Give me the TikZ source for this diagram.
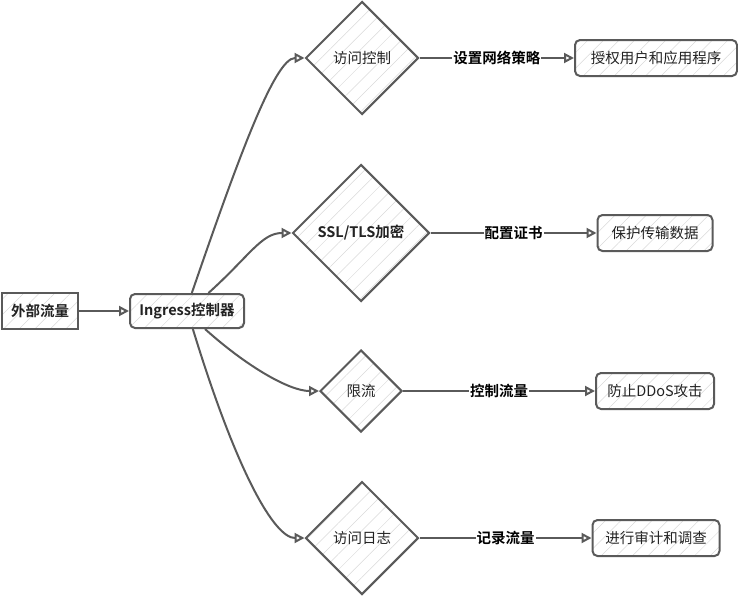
\documentclass[tikz,border=0pt]{standalone}
\usepackage{fontspec}
\setmainfont{Noto Sans CJK SC}[BoldFont={Noto Sans CJK SC Bold}]
\usepackage{xcolor}
\usetikzlibrary{arrows.meta,positioning,shapes.geometric,patterns.meta}
\definecolor{linegray}{HTML}{5A5A5A}
\definecolor{textgray}{HTML}{222222}

\begin{document}
\begin{tikzpicture}[x=1pt,y=1pt,
      box_node/.style={
         rectangle,
         draw=linegray,
         line width=2pt,
         rounded corners=5pt,
         pattern={Lines[angle=45,distance=11pt,line width=0.5pt]},
         pattern color=gray!30,
         text=textgray,
         inner sep=0pt,
         minimum height=36pt,
         font=\fontsize{14.5}{17}\selectfont},
      plain_box/.style={
         box_node,
         rounded corners=0pt},
      diamond_node/.style={
         diamond,
         aspect=1,
         draw=linegray,
         line width=2pt,
         pattern={Lines[angle=45,distance=11pt,line width=0.5pt]},
         pattern color=gray!30,
         text=textgray,
         inner sep=0pt,
         font=\fontsize{14.5}{17}\selectfont},
      edge_label/.style={
         fill=white,
         inner sep=1pt,
         text=black,
         font=\fontsize{14.5}{17}\selectfont\bfseries},
      arrow_gray/.style={
         -{Triangle[open,length=10pt,width=10pt]},
         draw=linegray,
         line width=2pt}
]
      \useasboundingbox (0,0) rectangle (738,-597);

      %entry
      \node[plain_box,minimum width=76pt,font=\fontsize{14.5}{17}\selectfont\bfseries] (src) at (40,-311) {外部流量};
      \node[box_node,minimum width=114pt,minimum height=34pt,font=\fontsize{14.5}{17}\selectfont\bfseries] (ing) at (187,-311) {Ingress控制器};

      %features
      \node[diamond_node,minimum size=113pt] (acc) at (362,-58) {访问控制};
      \node[diamond_node,minimum size=137pt,font=\fontsize{14.5}{17}\selectfont\bfseries] (tls) at (361,-233) {SSL/TLS加密};
      \node[diamond_node,minimum size=82pt] (lim) at (361,-391) {限流};
      \node[diamond_node,minimum size=113pt] (log) at (362,-538) {访问日志};

      %results
      \node[box_node,minimum width=162pt] (auth) at (656,-58) {授权用户和应用程序};
      \node[box_node,minimum width=115pt] (prot) at (655,-233) {保护传输数据};
      \node[box_node,minimum width=118pt] (ddos) at (655,-391) {防止DDoS攻击};
      \node[box_node,minimum width=127pt] (audit) at (656,-538) {进行审计和调查};

      \draw[arrow_gray] (src) -- (ing);

    \foreach \a/\o/\d/\j in {% start angle/out angle/out distance/target
      75/71/138/acc, 40/42/55/tls, -45/-42/55/lim, -72/-73/150/log}
    \draw[arrow_gray] (ing.\a) to[out=\o,in=180,out distance=\d pt,in distance=30pt] (\j.west);

    \foreach \i/\j/\txt in {% start node/end node/text
      acc/auth/设置网络策略,
      tls/prot/配置证书,
      lim/ddos/控制流量,
      log/audit/记录流量}
    \draw[arrow_gray] (\i) -- node[edge_label] {\txt} (\j);

\end{tikzpicture}
\end{document}
